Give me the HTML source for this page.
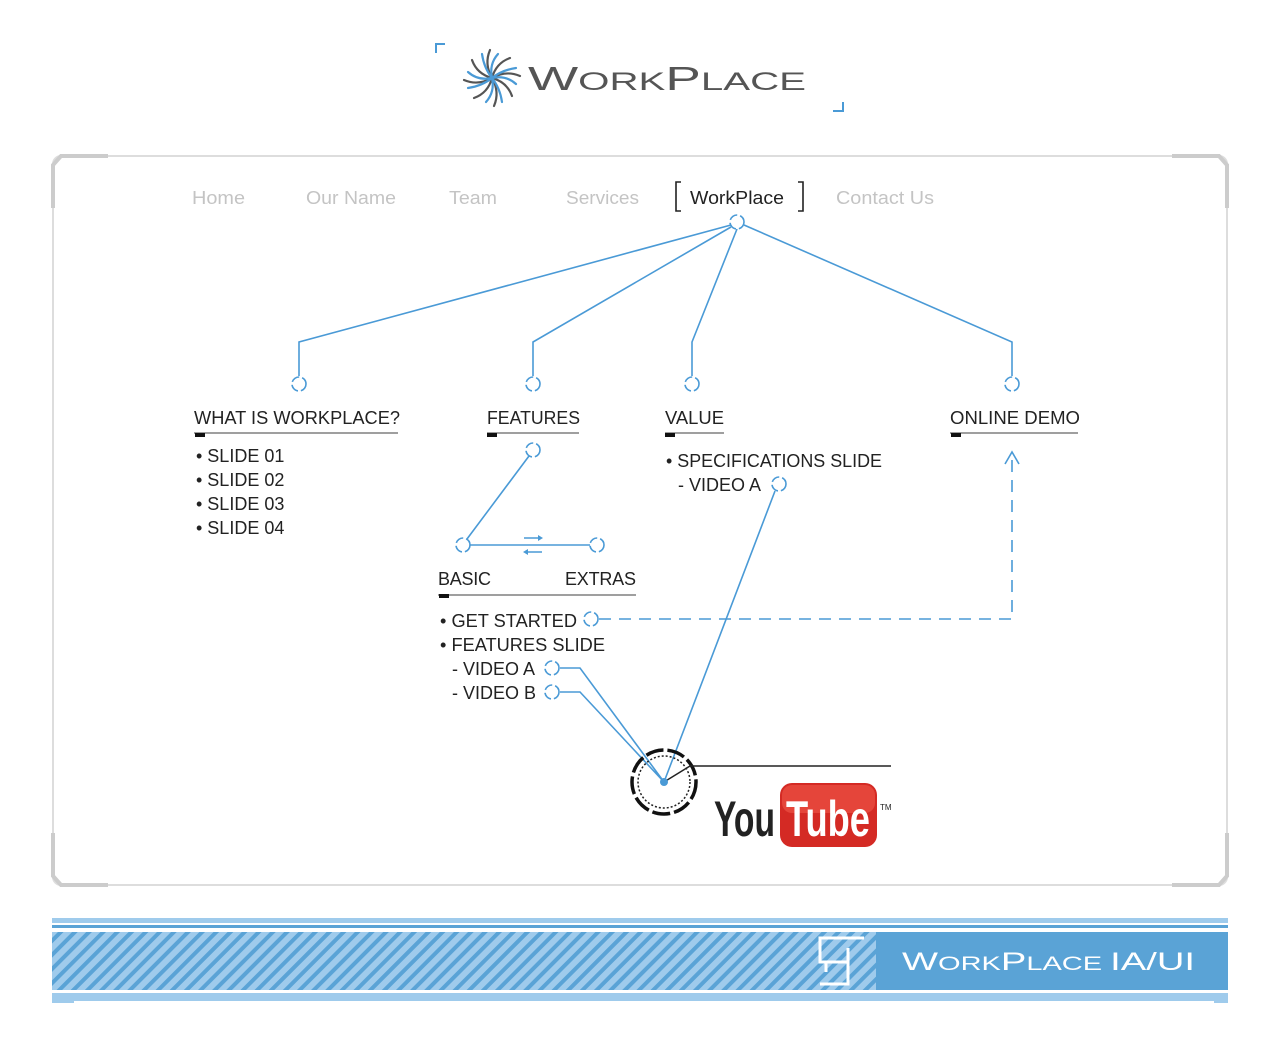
<!DOCTYPE html>
<html><head><meta charset="utf-8"><style>
body{margin:0;background:#fff;width:1280px;height:1052px;overflow:hidden}
svg{display:block}
text{font-family:"Liberation Sans",sans-serif}
</style></head><body>
<svg width="1280" height="1052" viewBox="0 0 1280 1052">
<defs>
<pattern id="hatch" width="10" height="10" patternUnits="userSpaceOnUse" patternTransform="rotate(45)">
<rect width="10" height="10" fill="#9fcbec"/><rect width="4" height="10" fill="#5aa3d6"/>
</pattern>
</defs>
<!-- logo -->
<path d="M436 53V44h9M843 102v9h-10" stroke="#4a9ad6" stroke-width="2" fill="none"/>
<g transform="translate(492,78)" stroke-width="2.2" fill="none" stroke-linecap="round">
<g stroke="#555"><path d="M0 0 Q-8 -14 -2 -28"/><path d="M0 0 Q14 -8 28 -2"/><path d="M0 0 Q8 14 2 28"/><path d="M0 0 Q-14 8 -28 2"/>
<path d="M0 0 Q4 -15 18 -20"/><path d="M0 0 Q15 4 20 18"/><path d="M0 0 Q-4 15 -18 20"/><path d="M0 0 Q-15 -4 -20 -18"/></g>
<g stroke="#4a9ad6"><path d="M0 0 Q-3 -14 6 -24"/><path d="M0 0 Q14 -3 24 6"/><path d="M0 0 Q3 14 -6 24"/><path d="M0 0 Q-14 3 -24 -6"/>
<path d="M0 0 Q10 -8 24 -10"/><path d="M0 0 Q8 10 10 24"/><path d="M0 0 Q-10 8 -24 10"/><path d="M0 0 Q-8 -10 -10 -24"/></g>
</g>
<text x="528" y="90" fill="#555" textLength="278" lengthAdjust="spacingAndGlyphs"><tspan font-size="33">W</tspan><tspan font-size="25">ORK</tspan><tspan font-size="33">P</tspan><tspan font-size="25">LACE</tspan></text>
<!-- panel -->
<rect x="53" y="156" width="1174" height="729" rx="8" fill="none" stroke="#ddd" stroke-width="2"/>
<path d="M53 208V165l8-9h47M1172 156h47l8 9v43M53 833v43l8 9h47M1172 885h47l8-9v-43" stroke="#ccc" stroke-width="4" fill="none"/>
<!-- nav -->
<g font-size="18" fill="#c4c4c4">
<text x="192" y="204" textLength="53" lengthAdjust="spacingAndGlyphs">Home</text><text x="306" y="204" textLength="90" lengthAdjust="spacingAndGlyphs">Our Name</text><text x="449" y="204" textLength="48" lengthAdjust="spacingAndGlyphs">Team</text><text x="566" y="204" textLength="73" lengthAdjust="spacingAndGlyphs">Services</text><text x="836" y="204" textLength="98" lengthAdjust="spacingAndGlyphs">Contact Us</text>
</g>
<text x="690" y="204" font-size="18" fill="#222" textLength="94" lengthAdjust="spacingAndGlyphs">WorkPlace</text>
<path d="M681 182h-5v29h5M798 182h5v29h-5" stroke="#222" stroke-width="1.6" fill="none"/>
<!-- connectors -->
<g stroke="#4a9ad6" stroke-width="1.6" fill="none">
<path d="M731 225L299 342V376M731 227L533 342V376M737 229L692 342V376M744 225L1012 342V376"/>
<path d="M529 456L467 539M470 545H590"/>
<path d="M524 538h16M526 552h16"/>
<path d="M560 668H580L664 782M560 692H580L664 782M775 491L664 782"/>
<path d="M599 619H1012V455" stroke-dasharray="12 8"/>
<path d="M1005 464l7-12 7 12"/>
</g>
<path d="M538 535l5 3-5 3zM528 549l-5 3 5 3z" fill="#4a9ad6"/>
<g stroke="#4a9ad6" stroke-width="1.6" fill="#fff" stroke-dasharray="9 3">
<circle cx="737" cy="222" r="7"/><circle cx="299" cy="384" r="7"/><circle cx="533" cy="384" r="7"/><circle cx="692" cy="384" r="7"/><circle cx="1012" cy="384" r="7"/>
<circle cx="533" cy="450" r="7"/><circle cx="463" cy="545" r="7"/><circle cx="597" cy="545" r="7"/>
<circle cx="591" cy="619" r="7"/><circle cx="552" cy="668" r="7"/><circle cx="552" cy="692" r="7"/><circle cx="779" cy="484" r="7"/>
</g>
<!-- headings -->
<g font-size="18" fill="#222">
<text x="194" y="424" textLength="206" lengthAdjust="spacingAndGlyphs">WHAT IS WORKPLACE?</text><text x="487" y="424" textLength="93" lengthAdjust="spacingAndGlyphs">FEATURES</text><text x="665" y="424" textLength="59" lengthAdjust="spacingAndGlyphs">VALUE</text><text x="950" y="424" textLength="130" lengthAdjust="spacingAndGlyphs">ONLINE DEMO</text>
<text x="438" y="585" textLength="53">BASIC</text><text x="565" y="585" textLength="71">EXTRAS</text>
<text x="196" y="462">• SLIDE 01</text><text x="196" y="486">• SLIDE 02</text><text x="196" y="510">• SLIDE 03</text><text x="196" y="534">• SLIDE 04</text>
<text x="666" y="467" textLength="216" lengthAdjust="spacingAndGlyphs">• SPECIFICATIONS SLIDE</text><text x="678" y="491">- VIDEO A</text>
<text x="440" y="627" textLength="137" lengthAdjust="spacingAndGlyphs">• GET STARTED</text><text x="440" y="651" textLength="165" lengthAdjust="spacingAndGlyphs">• FEATURES SLIDE</text><text x="452" y="675">- VIDEO A</text><text x="452" y="699">- VIDEO B</text>
</g>
<g stroke="#666" stroke-width="1.2"><path d="M194 433H398M487 433H579M665 433H724M950 433H1078M438 595H636"/></g>
<g fill="#111"><rect x="195" y="433" width="10" height="4"/><rect x="487" y="433" width="10" height="4"/><rect x="665" y="433" width="10" height="4"/><rect x="951" y="433" width="10" height="4"/><rect x="439" y="594" width="10" height="4"/></g>
<!-- clock + youtube -->
<circle cx="664" cy="782" r="32" fill="none" stroke="#111" stroke-width="3.5" stroke-dasharray="18 4"/>
<circle cx="664" cy="782" r="26" fill="none" stroke="#222" stroke-width="1.5" stroke-dasharray="2 2"/>
<path d="M664 782L690 766H891" stroke="#222" stroke-width="1.5" fill="none"/>
<circle cx="664" cy="782" r="4" fill="#4a9ad6"/>
<text x="714" y="836" font-size="50" font-weight="bold" fill="#222" textLength="61" lengthAdjust="spacingAndGlyphs">You</text>
<rect x="780" y="783" width="97" height="64" rx="12" fill="#d42a24"/>
<rect x="782" y="785" width="93" height="28" rx="10" fill="#e5453a"/>
<text x="786" y="836" font-size="50" font-weight="bold" fill="#fff" textLength="84" lengthAdjust="spacingAndGlyphs">Tube</text>
<text x="880" y="810" font-size="8" fill="#222">TM</text>
<!-- footer -->
<rect x="52" y="918" width="1176" height="5" fill="#9fcbec"/>
<rect x="52" y="925" width="1176" height="3" fill="#5aa3d6"/>
<rect x="52" y="932" width="824" height="58" fill="url(#hatch)"/>
<rect x="876" y="932" width="352" height="58" fill="#5aa3d6"/>
<rect x="52" y="993" width="1176" height="10" fill="#9fcbec"/>
<rect x="74" y="1001" width="1140" height="3" fill="#fff"/>
<path d="M864 938H820V962H848V984H820M826 972V962M848 962V948" stroke="#fff" stroke-width="3" fill="none"/>
<text x="902" y="970" fill="#fff" textLength="293" lengthAdjust="spacingAndGlyphs"><tspan font-size="25">W</tspan><tspan font-size="19">ORK</tspan><tspan font-size="25">P</tspan><tspan font-size="19">LACE </tspan><tspan font-size="25">IA/UI</tspan></text>
</svg>
</body></html>
